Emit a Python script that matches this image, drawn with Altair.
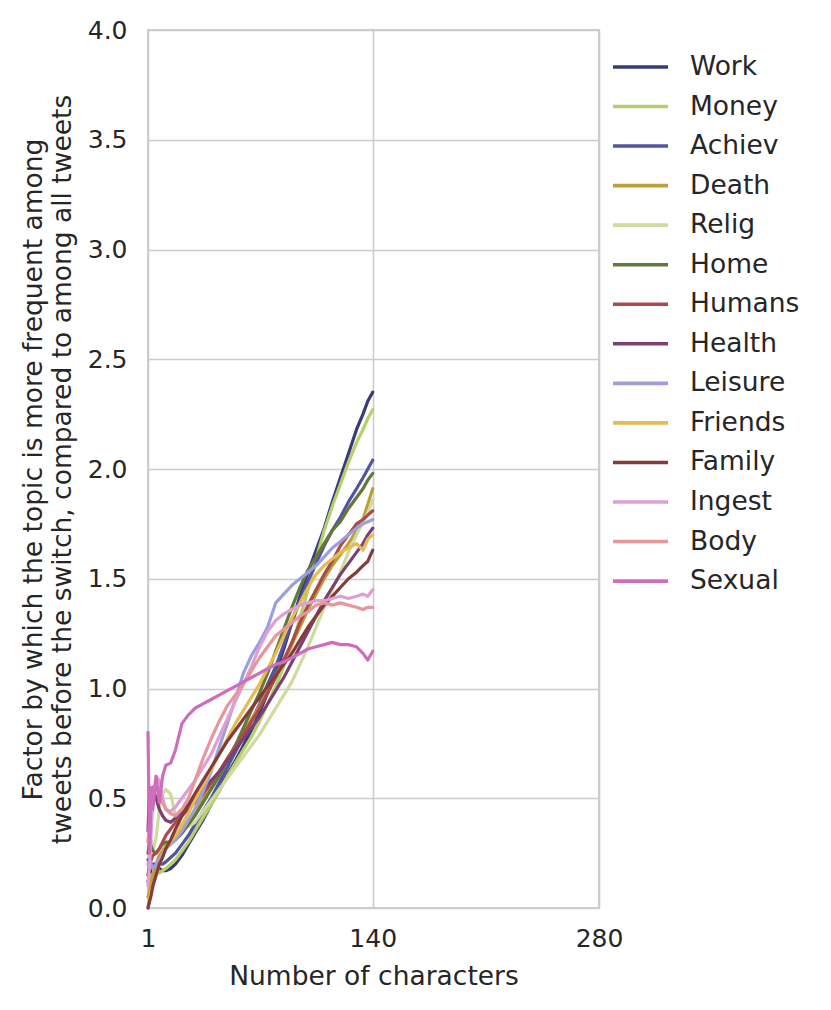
import altair as alt
import pandas as pd

# character positions
X = [1, 2, 3, 4, 6, 8, 10, 12, 15, 18, 22, 26, 30, 35, 40, 45, 50, 55, 60, 65,
     70, 75, 80, 85, 90, 95, 100, 105, 110, 115, 120, 125, 130, 134, 137, 140]

topics = ["Work", "Money", "Achiev", "Death", "Relig", "Home", "Humans", "Health",
          "Leisure", "Friends", "Family", "Ingest", "Body", "Sexual"]
colors = ["#393b79", "#b5cf6b", "#5254a3", "#bd9e39", "#cedb9c", "#637939", "#ad494a",
          "#7b4173", "#9c9ede", "#e7ba52", "#843c39", "#de9ed6", "#e7969c", "#ce6dbd"]

work = [0.12, 0.15, 0.18, 0.20, 0.20, 0.18, 0.17, 0.17, 0.18, 0.20, 0.24, 0.29, 0.34, 0.40, 0.47, 0.54, 0.61, 0.67, 0.74, 0.81,
        0.89, 0.98, 1.07, 1.18, 1.30, 1.42, 1.53, 1.63, 1.73, 1.85, 1.96, 2.07, 2.18, 2.25, 2.31, 2.35]
money = [0.15, 0.14, 0.15, 0.15, 0.16, 0.16, 0.17, 0.18, 0.20, 0.22, 0.26, 0.30, 0.35, 0.41, 0.47, 0.53, 0.60, 0.66, 0.72, 0.78,
         0.85, 0.93, 1.01, 1.10, 1.20, 1.32, 1.45, 1.59, 1.72, 1.83, 1.93, 2.03, 2.12, 2.18, 2.23, 2.27]
achiev = [0.22, 0.20, 0.18, 0.18, 0.20, 0.20, 0.20, 0.21, 0.23, 0.25, 0.29, 0.33, 0.38, 0.44, 0.50, 0.57, 0.64, 0.71, 0.78, 0.85,
          0.93, 1.02, 1.10, 1.20, 1.30, 1.40, 1.49, 1.57, 1.65, 1.72, 1.78, 1.85, 1.91, 1.96, 2.00, 2.04]
death = [0.05, 0.08, 0.12, 0.15, 0.20, 0.24, 0.26, 0.28, 0.30, 0.33, 0.36, 0.40, 0.44, 0.50, 0.56, 0.62, 0.68, 0.74, 0.80, 0.86,
         0.92, 0.99, 1.06, 1.13, 1.20, 1.28, 1.36, 1.43, 1.50, 1.56, 1.61, 1.66, 1.72, 1.77, 1.84, 1.91]
relig = [0.30, 0.35, 0.30, 0.26, 0.32, 0.45, 0.52, 0.54, 0.52, 0.42, 0.36, 0.37, 0.39, 0.44, 0.49, 0.54, 0.59, 0.64, 0.69, 0.74,
         0.79, 0.85, 0.91, 0.97, 1.03, 1.11, 1.19, 1.28, 1.37, 1.45, 1.53, 1.62, 1.70, 1.76, 1.80, 1.86]
home = [0.25, 0.30, 0.28, 0.26, 0.25, 0.27, 0.29, 0.30, 0.30, 0.31, 0.34, 0.38, 0.42, 0.48, 0.54, 0.60, 0.67, 0.74, 0.82, 0.90,
        0.98, 1.07, 1.17, 1.27, 1.37, 1.46, 1.54, 1.60, 1.66, 1.72, 1.76, 1.82, 1.87, 1.91, 1.95, 1.98]
humans = [0.15, 0.20, 0.22, 0.24, 0.25, 0.27, 0.30, 0.33, 0.36, 0.39, 0.42, 0.45, 0.48, 0.52, 0.57, 0.62, 0.68, 0.73, 0.79, 0.85,
          0.91, 0.98, 1.05, 1.13, 1.21, 1.30, 1.38, 1.45, 1.52, 1.58, 1.65, 1.70, 1.75, 1.77, 1.79, 1.81]
health = [0.35, 0.55, 0.50, 0.55, 0.50, 0.45, 0.42, 0.40, 0.39, 0.41, 0.44, 0.47, 0.50, 0.54, 0.58, 0.62, 0.67, 0.72, 0.77, 0.82,
          0.87, 0.93, 0.99, 1.05, 1.12, 1.19, 1.26, 1.33, 1.40, 1.46, 1.52, 1.57, 1.62, 1.66, 1.70, 1.73]
leisure = [0.20, 0.22, 0.20, 0.18, 0.20, 0.22, 0.25, 0.27, 0.29, 0.31, 0.35, 0.40, 0.45, 0.53, 0.62, 0.73, 0.84, 0.95, 1.07, 1.15,
           1.21, 1.28, 1.39, 1.43, 1.47, 1.50, 1.53, 1.56, 1.60, 1.64, 1.67, 1.70, 1.73, 1.75, 1.76, 1.77]
friends = [0.00, 0.05, 0.08, 0.10, 0.15, 0.20, 0.24, 0.27, 0.30, 0.33, 0.38, 0.43, 0.49, 0.56, 0.63, 0.70, 0.77, 0.84, 0.90, 0.96,
           1.02, 1.09, 1.16, 1.24, 1.32, 1.39, 1.46, 1.52, 1.56, 1.59, 1.62, 1.64, 1.66, 1.63, 1.68, 1.70]
family = [0.00, 0.03, 0.06, 0.10, 0.15, 0.20, 0.23, 0.27, 0.31, 0.36, 0.42, 0.47, 0.52, 0.58, 0.64, 0.70, 0.76, 0.81, 0.86, 0.91,
          0.96, 1.01, 1.06, 1.11, 1.16, 1.22, 1.28, 1.33, 1.38, 1.42, 1.46, 1.50, 1.53, 1.56, 1.58, 1.63]
ingest = [0.10, 0.20, 0.35, 0.50, 0.60, 0.58, 0.50, 0.45, 0.44, 0.46, 0.50, 0.54, 0.58, 0.64, 0.70, 0.78, 0.86, 0.94, 1.02, 1.10,
          1.19, 1.26, 1.31, 1.34, 1.36, 1.38, 1.39, 1.40, 1.40, 1.41, 1.42, 1.41, 1.42, 1.43, 1.42, 1.45]
body = [0.30, 0.40, 0.50, 0.52, 0.55, 0.52, 0.48, 0.45, 0.43, 0.42, 0.45, 0.50, 0.58, 0.68, 0.77, 0.85, 0.92, 0.97, 1.02, 1.08,
        1.14, 1.19, 1.24, 1.27, 1.30, 1.33, 1.35, 1.38, 1.39, 1.38, 1.39, 1.38, 1.37, 1.36, 1.37, 1.37]
sexual = [0.80, 0.25, 0.55, 0.45, 0.60, 0.48, 0.60, 0.65, 0.66, 0.72, 0.84, 0.88, 0.91, 0.93, 0.95, 0.97, 0.99, 1.01, 1.03, 1.05,
          1.07, 1.09, 1.11, 1.12, 1.14, 1.16, 1.18, 1.19, 1.20, 1.21, 1.20, 1.20, 1.19, 1.16, 1.13, 1.17]

series = [work, money, achiev, death, relig, home, humans, health,
          leisure, friends, family, ingest, body, sexual]

x_ticks = [1, 140, 280]
y_ticks = [0.0, 0.5, 1.0, 1.5, 2.0, 2.5, 3.0, 3.5, 4.0]

rows = []
for order, (name, vals) in enumerate(zip(topics, series)):
    for xv, yv in zip(X, vals):
        rows.append({"topic": name, "chars": xv, "factor": yv, "order": order})
df = pd.DataFrame(rows)

TXT = "#262626"
FONT = "DejaVu Sans"

chart = alt.Chart(df).mark_line(strokeWidth=3.2, strokeJoin="round", strokeCap="round").encode(
    x=alt.X("chars:Q",
            scale=alt.Scale(domain=[1, 280], nice=False, zero=False),
            axis=alt.Axis(values=x_ticks, title="Number of characters",
                          labelFlush=False, labelPadding=18.5, titlePadding=12)),
    y=alt.Y("factor:Q",
            scale=alt.Scale(domain=[0, 4], nice=False, zero=False),
            axis=alt.Axis(values=y_ticks, format=".1f",
                          title=["Factor by which the topic is more frequent among",
                                 "tweets before the switch, compared to among all tweets"],
                          labelPadding=21, titlePadding=11, titleLineHeight=29)),
    color=alt.Color("topic:N",
                    scale=alt.Scale(domain=topics, range=colors),
                    sort=topics,
                    legend=alt.Legend(orient="none", legendX=479.25, legendY=23.7, title=None,
                                      symbolType="M-3,0H3", symbolSize=336, symbolStrokeWidth=3.6,
                                      labelFontSize=26.5, labelOffset=36.25, rowPadding=12.55,
                                      padding=0, labelColor=TXT, labelFont=FONT,
                                      symbolOffset=0, labelLimit=300)),
    order=alt.Order("order:Q"),
    detail="topic:N",
).properties(
    width=451, height=878,
    autosize=alt.AutoSizeParams(type="none"),
    padding={"left": 140, "top": 22, "right": 200, "bottom": 90},
).configure_view(
    stroke="#cccccc", strokeWidth=2, fill="white"
).configure_axis(
    grid=True, gridColor="#cccccc", gridWidth=1.6, domain=False, ticks=False, tickSize=0,
    labelFont=FONT, titleFont=FONT, labelFontSize=25, titleFontSize=26.5,
    labelColor=TXT, titleColor=TXT, titleFontWeight="normal"
)

chart.save("out.html", embed_options={"renderer": "svg", "actions": False})
